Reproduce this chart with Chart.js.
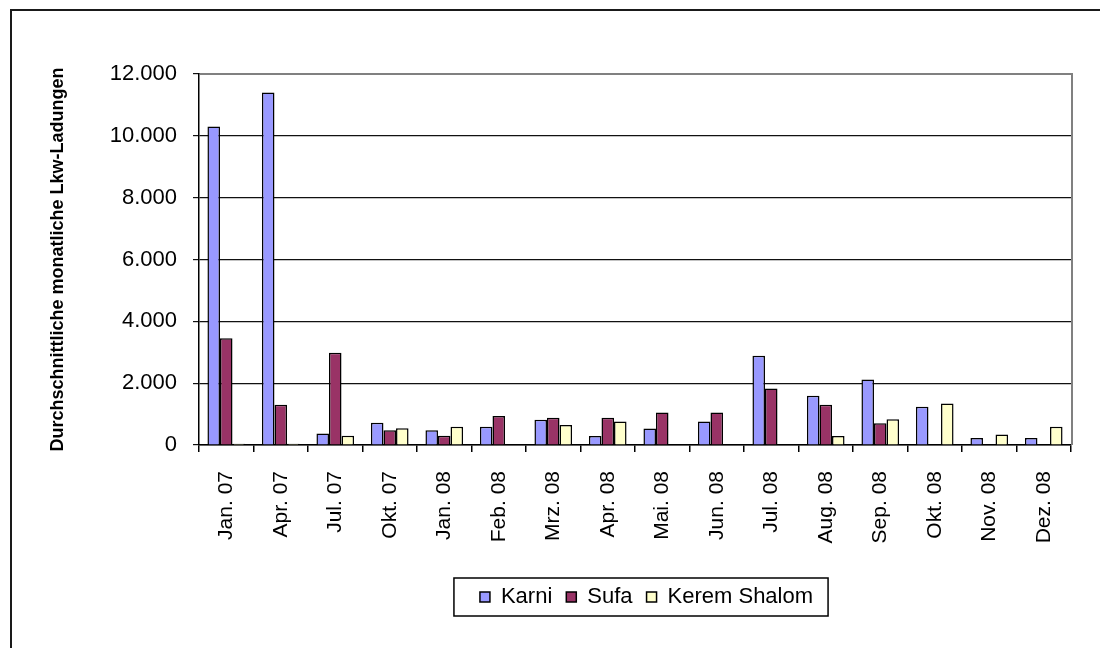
<!DOCTYPE html>
<html>

<head>
    <meta charset="utf-8">
    <title>Lkw-Ladungen Gaza</title>
    <style>
        html, body { margin: 0; padding: 0; background: #fff; }
    </style>
</head>

<body>
    <canvas id="myChart" width="1100" height="648"></canvas>

    <script src="https://cdn.jsdelivr.net/npm/chart.js@4/dist/chart.umd.min.js"></script>
    <script type="text/javascript">
        // Daten
        const monate = ["Jan. 07", "Apr. 07", "Jul. 07", "Okt. 07", "Jan. 08", "Feb. 08", "Mrz. 08", "Apr. 08",
            "Mai. 08", "Jun. 08", "Jul. 08", "Aug. 08", "Sep. 08", "Okt. 08", "Nov. 08", "Dez. 08"];
        const karni = [10300, 11400, 370, 720, 480, 590, 820, 290, 530, 760, 2890, 1590, 2120, 1240, 230, 230];
        const sufa = [3450, 1300, 2980, 480, 300, 940, 880, 880, 1050, 1050, 1830, 1300, 700, null, null, null];
        const keremShalom = [40, 40, 300, 540, 590, null, 650, 760, null, null, null, 290, 830, 1340, 340, 590];
        const yTicks = [0, 2000, 4000, 6000, 8000, 10000, 12000];

        const schrift = "'Liberation Sans', Arial, sans-serif";

        function punkt(v) {
            return String(v).replace(/\B(?=(\d{3})+(?!\d))/g, '.');
        }

        // Rahmen, Plotrand und Legendenkasten
        const rahmen = {
            id: 'rahmen',
            afterLayout(chart) {
                const lg = chart.legend;
                const w = lg.right - lg.left;
                lg.left = 646.5 - w / 2;
                lg.right = lg.left + w;
            },
            afterDraw(chart) {
                const ctx = chart.ctx;
                const a = chart.chartArea;
                ctx.save();
                // aeusserer Rahmen
                ctx.fillStyle = '#1a1a1a';
                ctx.fillRect(10, 9, 2, 648);
                ctx.fillRect(10, 9, 1100, 2);
                // Plotbereich oben / rechts
                ctx.fillStyle = '#808080';
                ctx.fillRect(a.left + 1, a.top - 1, a.right - a.left, 2);
                ctx.fillRect(a.right, a.top - 1, 2, a.bottom - a.top + 1);
                // Legende
                const lg = chart.legend;
                const pad = lg.options.labels.padding;
                const lw = lg.lineWidths[0];
                const x0 = (lg.left + pad + lg.right - lw) / 2;
                const x1 = x0 + lw - pad;
                const cy = lg.top + pad + 11;
                ctx.strokeStyle = '#000';
                ctx.lineWidth = 1.5;
                ctx.strokeRect(x0 - 26, cy - 19, (x1 + 15) - (x0 - 26), 38);
                ctx.restore();
            }
        };

        const ctx = document.getElementById('myChart').getContext('2d');
        const chart = new Chart(ctx, {
            type: 'bar',
            data: {
                labels: monate,
                datasets: [{
                    label: "Karni",
                    data: karni,
                    backgroundColor: "#9999FF",
                    borderColor: "#000",
                    borderWidth: 1.5
                }, {
                    label: "Sufa",
                    data: sufa,
                    backgroundColor: "#993366",
                    borderColor: "#000",
                    borderWidth: 1.5
                }, {
                    label: "Kerem Shalom",
                    data: keremShalom,
                    backgroundColor: "#FFFFCC",
                    borderColor: "#000",
                    borderWidth: 1.5
                }]
            },
            options: {
                responsive: false,
                animation: false,
                devicePixelRatio: 1,
                datasets: {
                    bar: { categoryPercentage: 0.69, barPercentage: 1.0 }
                },
                layout: { padding: { left: 36, right: 29, top: 74, bottom: 30 } },
                plugins: {
                    legend: {
                        position: 'bottom',
                        fullSize: false,
                        labels: {
                            boxWidth: 10,
                            boxHeight: 10,
                            padding: 14,
                            color: '#000',
                            font: { family: schrift, size: 22 }
                        }
                    },
                    tooltip: { enabled: false }
                },
                scales: {
                    x: {
                        grid: {
                            drawOnChartArea: false,
                            drawTicks: true,
                            tickLength: 7,
                            lineWidth: 1.5,
                            color: '#000',
                            offset: true
                        },
                        border: { color: '#000', width: 1.5 },
                        ticks: {
                            autoSkip: false,
                            maxRotation: 90,
                            minRotation: 90,
                            padding: 19,
                            color: '#000',
                            font: { family: schrift, size: 21 }
                        },
                        afterFit(s) { s.height = 127; }
                    },
                    y: {
                        min: 0,
                        max: 12000,
                        afterBuildTicks(s) { s.ticks = yTicks.map(v => ({ value: v })); },
                        grid: { color: '#111', lineWidth: 1.2, tickLength: 6 },
                        border: { color: '#000', width: 1.5 },
                        ticks: {
                            padding: 16,
                            color: '#000',
                            font: { family: schrift, size: 22 },
                            callback: v => punkt(v)
                        },
                        title: {
                            display: true,
                            text: "Durchschnittliche monatliche Lkw-Ladungen",
                            color: '#000',
                            font: { family: schrift, size: 18, weight: 'bold' },
                            padding: { top: 11, bottom: 0 }
                        },
                        afterFit(s) { s.width = 163; }
                    }
                }
            },
            plugins: [rahmen]
        });
    </script>
</body>

</html>
